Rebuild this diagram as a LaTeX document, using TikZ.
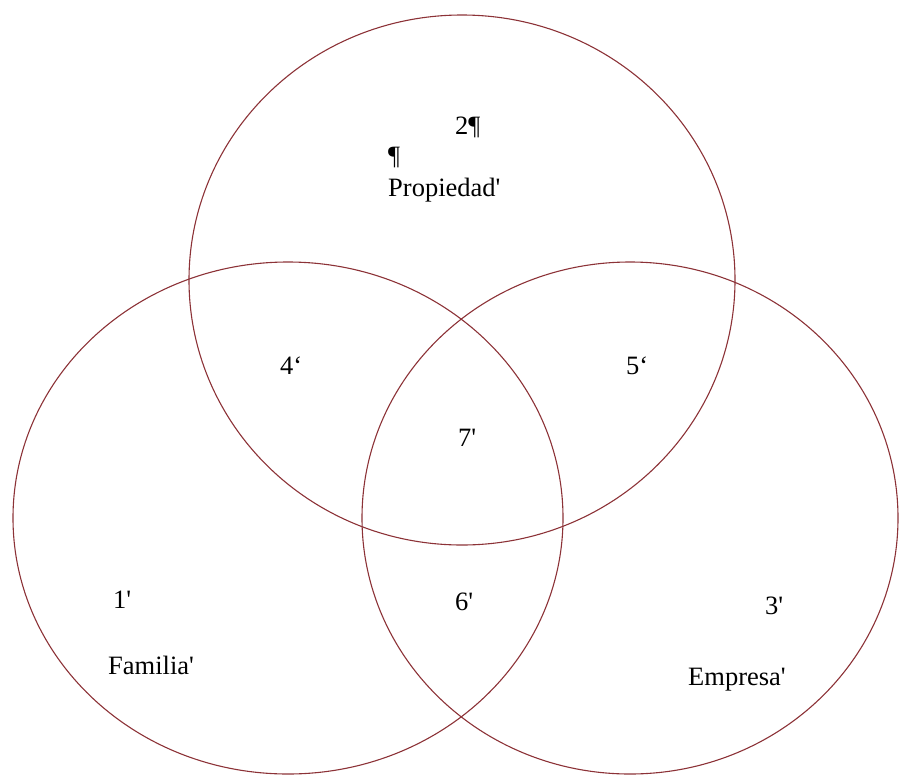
\documentclass[tikz,border=0pt]{standalone}
\usepackage{fontspec}
\setmainfont{Liberation Serif}
\definecolor{ringred}{RGB}{140,50,55}
\newcommand{\tick}{\textquotesingle}
\begin{document}
\begin{tikzpicture}[x=1pt,y=-1pt,line cap=round,line join=round,
  ring/.style={draw=ringred,line width=1.1pt},
  lbl/.style={anchor=west,inner sep=0pt,font=\fontsize{26.5}{30}\selectfont}]

\useasboundingbox (0,0) rectangle (899,774);

% centres of the three sets
\coordinate (Prop) at (462,280);
\coordinate (Fam) at (288,518);
\coordinate (Emp) at (630,518);

% circles
\draw[ring] (Prop) ellipse [x radius=273pt,y radius=265pt];
\draw[ring] (Fam) ellipse [x radius=275pt,y radius=256pt];
\draw[ring] (Emp) ellipse [x radius=268pt,y radius=256pt];

% top set
\node[lbl] (n2) at (455,127) {2¶};
\node[lbl] (pil) at (388,157) {¶};
\node[lbl] (propiedad) at (388,190) {Propiedad\tick};

% overlaps
\node[lbl] (n4) at (280,366) {4‘};
\node[lbl] (n5) at (626,366) {5‘};
\node[lbl] (n7) at (458,438) {7\tick};
\node[lbl] (n6) at (455,602) {6\tick};

% left set
\node[lbl] (n1) at (113,600) {1\tick};
\node[lbl] (familia) at (108,665) {Familia\tick};

% right set
\node[lbl] (n3) at (765,606) {3\tick};
\node[lbl] (empresa) at (688,680) {Empresa\tick};

\end{tikzpicture}
\end{document}
